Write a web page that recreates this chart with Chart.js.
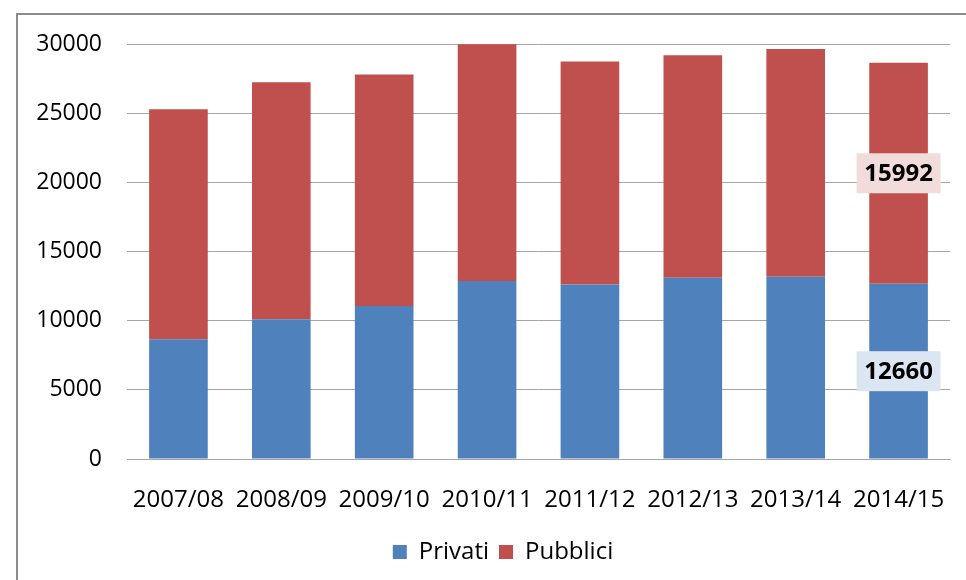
<!DOCTYPE html>
<html>
<head>
<meta charset="utf-8">
<script src="https://cdn.jsdelivr.net/npm/chart.js@4"></script>
<style>
  html, body { margin: 0; padding: 0; background: #fff; }
  #wrap { position: relative; width: 966px; height: 580px; }
</style>
</head>
<body>
<div id="wrap"><canvas id="chart" width="966" height="580"></canvas></div>
<script>
// dati
const anni = ['2007/08', '2008/09', '2009/10', '2010/11', '2011/12', '2012/13', '2013/14', '2014/15'];
const privati = [8650, 10100, 11060, 12860, 12620, 13100, 13170, 12660];
const pubblici = [16640, 17140, 16730, 17130, 16110, 16080, 16470, 15992];
const yTicks = [0, 5000, 10000, 15000, 20000, 25000, 30000];
// etichette mostrate solo sull'ultima barra
const labelIndex = 7;

const FONT = '"Open Sans", "DejaVu Sans", sans-serif';

// cornice grigia attorno al grafico
const framePlugin = {
  id: 'frame',
  beforeDraw(chart) {
    const ctx = chart.ctx;
    ctx.save();
    ctx.strokeStyle = '#8c8c8c';
    ctx.lineWidth = 2;
    ctx.beginPath();
    ctx.moveTo(17, 580);
    ctx.lineTo(17, 14);
    ctx.lineTo(966, 14);
    ctx.stroke();
    ctx.restore();
  }
};

// sposta la legenda un po' a destra, come nell'originale
const legendShift = {
  id: 'legendShift',
  afterLayout(chart) {
    chart.legend.left += 28;
    chart.legend.right += 28;
  }
};

// etichette dei valori con riquadro colorato
const valueLabels = {
  id: 'valueLabels',
  afterDatasetsDraw(chart) {
    const ctx = chart.ctx;
    const bgs = ['#dce6f2', '#f2dcdb'];
    ctx.save();
    ctx.font = 'bold 24px ' + FONT;
    ctx.textAlign = 'center';
    ctx.textBaseline = 'middle';
    chart.data.datasets.forEach((ds, di) => {
      const el = chart.getDatasetMeta(di).data[labelIndex];
      const cy = (el.y + el.base) / 2;
      const txt = String(ds.data[labelIndex]);
      const w = 84, h = 40;
      ctx.fillStyle = bgs[di];
      ctx.fillRect(el.x - w / 2, cy - h / 2, w, h);
      ctx.fillStyle = '#000';
      ctx.fillText(txt, el.x, cy + 1);
    });
    ctx.restore();
  }
};

new Chart(document.getElementById('chart'), {
  type: 'bar',
  data: {
    labels: anni,
    datasets: [
      { label: 'Privati', data: privati, backgroundColor: '#4f81bd', categoryPercentage: 1, barPercentage: 0.57 },
      { label: 'Pubblici', data: pubblici, backgroundColor: '#c0504d', categoryPercentage: 1, barPercentage: 0.57 }
    ]
  },
  options: {
    responsive: false,
    animation: false,
    layout: { padding: { top: 44, right: 16, bottom: 6, left: 0 } },
    plugins: {
      tooltip: { enabled: false },
      legend: {
        position: 'bottom',
        labels: {
          color: '#000',
          font: { family: FONT, size: 24 },
          boxWidth: 14,
          boxHeight: 14,
          padding: 10
        }
      }
    },
    scales: {
      x: {
        stacked: true,
        grid: { display: false },
        border: { display: true, color: '#a6a6a6', width: 1 },
        ticks: { color: '#000', font: { family: FONT, size: 24 }, padding: 19, maxRotation: 0 },
        afterFit(scale) { scale.height = 71; }
      },
      y: {
        stacked: true,
        min: 0,
        max: 30000,
        afterBuildTicks(scale) { scale.ticks = yTicks.map(v => ({ value: v })); },
        grid: { color: '#a6a6a6', lineWidth: 1, drawTicks: false },
        border: { display: false },
        ticks: {
          color: '#000',
          font: { family: FONT, size: 23 },
          padding: 25,
          callback: v => String(v)
        },
        afterFit(scale) { scale.width = 127; }
      }
    }
  },
  plugins: [framePlugin, legendShift, valueLabels]
});
</script>
</body>
</html>
